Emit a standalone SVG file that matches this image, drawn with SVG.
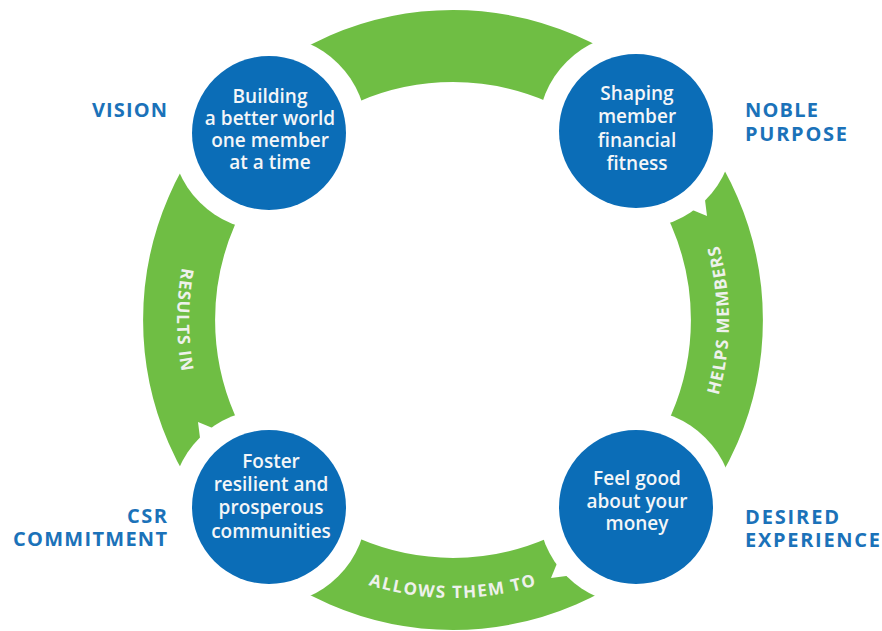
<svg xmlns="http://www.w3.org/2000/svg" xmlns:xlink="http://www.w3.org/1999/xlink" width="882" height="631" viewBox="0 0 882 631">
<style>
.arc{fill:none;stroke:#6fbe44;stroke-width:72}
.halo{fill:#ffffff}
.node{fill:#0b6db7}
.nt{font-family:"Open Sans","Liberation Sans",sans-serif;font-weight:600;font-size:19px;fill:#f4f6f8;text-anchor:middle}
.lbl{font-family:"Open Sans","Liberation Sans",sans-serif;font-weight:700;font-size:20px;fill:#1b72b9}
.al{font-family:"Open Sans","Liberation Sans",sans-serif;font-weight:700;font-size:17px;fill:#eef1ec;letter-spacing:1px}
</style>
<defs>
<polygon id="tail" class="halo" points="68.6,65.8 71,85 54,78"/>
<path id="pRight" d="M 664.4 497.4 A 276 276 0 0 0 664.4 142.6"/>
<path id="pLeft" d="M 241.6 142.6 A 276 276 0 0 0 241.6 497.4"/>
<path id="pBottom" d="M 274.3 533 A 278 278 0 0 0 631.7 533"/>
</defs>
<rect width="882" height="631" fill="#ffffff"/>
<g id="connectors">
<path class="arc" d="M 259.3 126.3 A 274 274 0 0 1 646.7 126.3"/>
<path class="arc" d="M 646.7 126.3 A 274 274 0 0 1 646.7 513.7"/>
<path class="arc" d="M 646.7 513.7 A 274 274 0 0 1 259.3 513.7"/>
<path class="arc" d="M 259.3 513.7 A 274 274 0 0 1 259.3 126.3"/>
<text class="al"><textPath href="#pRight" startOffset="50%" text-anchor="middle">HELPS MEMBERS</textPath></text>
<text class="al"><textPath href="#pLeft" startOffset="50%" text-anchor="middle">RESULTS IN</textPath></text>
<text class="al" style="letter-spacing:1.5px"><textPath href="#pBottom" startOffset="50%" text-anchor="middle">ALLOWS THEM TO</textPath></text>
</g>
<g id="vision">
<circle class="halo" cx="269" cy="133" r="98"/>
<circle class="node" cx="269" cy="133" r="77"/>
<text class="nt" x="270" y="103">Building</text>
<text class="nt" x="270" y="125">a better world</text>
<text class="nt" x="270" y="147">one member</text>
<text class="nt" x="270" y="169">at a time</text>
<text class="lbl" x="92" y="117" textLength="75" lengthAdjust="spacing">VISION</text>
</g>
<g id="noble-purpose">
<circle class="halo" cx="636" cy="131" r="98"/>
<use href="#tail" transform="translate(636,131)"/>
<circle class="node" cx="636" cy="131" r="77"/>
<text class="nt" x="637" y="100">Shaping</text>
<text class="nt" x="637" y="123">member</text>
<text class="nt" x="637" y="147">financial</text>
<text class="nt" x="637" y="170">fitness</text>
<text class="lbl" x="745" y="117" textLength="73" lengthAdjust="spacing">NOBLE</text>
<text class="lbl" x="745" y="141" textLength="102" lengthAdjust="spacing">PURPOSE</text>
</g>
<g id="desired-experience">
<circle class="halo" cx="636" cy="507" r="98"/>
<use href="#tail" transform="translate(636,507) rotate(90)"/>
<circle class="node" cx="636" cy="507" r="77"/>
<text class="nt" x="637" y="485">Feel good</text>
<text class="nt" x="637" y="508">about your</text>
<text class="nt" x="637" y="530">money</text>
<text class="lbl" x="745" y="524" textLength="94" lengthAdjust="spacing">DESIRED</text>
<text class="lbl" x="745" y="547" textLength="135" lengthAdjust="spacing">EXPERIENCE</text>
</g>
<g id="csr-commitment">
<circle class="halo" cx="269" cy="507" r="98"/>
<use href="#tail" transform="translate(269,507) rotate(180)"/>
<circle class="node" cx="269" cy="507" r="77"/>
<text class="nt" x="271" y="468">Foster</text>
<text class="nt" x="271" y="491">resilient and</text>
<text class="nt" x="271" y="514">prosperous</text>
<text class="nt" x="271" y="538">communities</text>
<text class="lbl" x="127" y="523" textLength="40" lengthAdjust="spacing">CSR</text>
<text class="lbl" x="13" y="546" textLength="154" lengthAdjust="spacing">COMMITMENT</text>
</g>
</svg>
